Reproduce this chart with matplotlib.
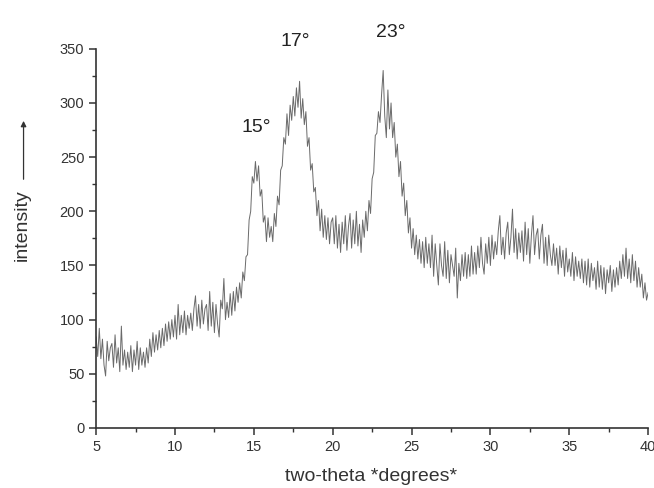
import numpy as np
import matplotlib
matplotlib.use("Agg")
import matplotlib.pyplot as plt
from matplotlib.ticker import MultipleLocator

plt.rcParams["font.family"] = ["Liberation Sans", "DejaVu Sans"]

# two-theta from 5.0 to 40.0 in 0.1 degree steps, intensities
theta_start = 5.0
theta_step = 0.1

intensity = [
    84, 66, 92, 64, 82, 58, 48, 80, 62, 74,
    78, 56, 86, 60, 74, 52, 94, 58, 72, 54,
    70, 56, 76, 52, 72, 58, 80, 54, 74, 58,
    70, 56, 74, 60, 82, 66, 88, 70, 86, 72,
    90, 74, 92, 76, 96, 80, 98, 82, 100, 84,
    104, 82, 114, 86, 104, 88, 108, 86, 104, 92,
    106, 90, 110, 122, 94, 114, 92, 118, 96, 110,
    114, 90, 126, 94, 116, 88, 114, 96, 84, 118,
    110, 138, 100, 116, 102, 124, 104, 126, 108, 130,
    116, 134, 120, 144, 136, 158, 160, 192, 200, 232,
    226, 246, 228, 242, 214, 220, 190, 196, 172, 194,
    176, 186, 172, 198, 186, 214, 206, 238, 242, 268,
    262, 290, 270, 298, 284, 306, 288, 314, 296, 320,
    286, 304, 280, 292, 260, 268, 238, 244, 218, 222,
    196, 210, 182, 202, 176, 196, 174, 194, 170, 190,
    194, 170, 196, 166, 188, 162, 190, 170, 196, 164,
    186, 198, 166, 192, 170, 200, 168, 188, 162, 192,
    176, 200, 182, 210, 198, 230, 236, 270, 272, 292,
    282, 308, 330, 288, 268, 312, 276, 300, 268, 282,
    250, 262, 232, 246, 214, 226, 196, 210, 180, 194,
    166, 184, 160, 178, 156, 174, 152, 172, 148, 176,
    152, 170, 148, 178, 140, 170, 150, 132, 170, 150,
    140, 172, 138, 164, 134, 160, 150, 140, 166, 120,
    152, 136, 160, 140, 162, 138, 160, 140, 168, 142,
    162, 142, 168, 148, 176, 152, 142, 170, 152, 176,
    150, 178, 156, 172, 160, 182, 196, 160, 176, 156,
    180, 190, 160, 176, 202, 162, 184, 156, 180, 162,
    182, 154, 190, 160, 184, 152, 178, 196, 160, 178,
    184, 156, 178, 188, 152, 176, 150, 178, 160, 150,
    170, 150, 166, 142, 168, 148, 164, 140, 166, 144,
    156, 140, 162, 136, 158, 140, 154, 138, 156, 134,
    154, 132, 156, 130, 152, 136, 148, 128, 154, 130,
    150, 128, 148, 124, 146, 134, 150, 126, 146, 130,
    148, 132, 154, 138, 160, 140, 166, 138, 156, 134,
    160, 136, 154, 130, 148, 130, 142, 120, 134, 118,
    125,
]

peak_labels = ["15°", "17°", "23°"]
peak_x = [15.15, 17.65, 23.7]
peak_y = [277, 357, 365]

theta = theta_start + theta_step * np.arange(len(intensity))

fig = plt.figure(figsize=(6.54, 4.88), dpi=100)
ax = fig.add_axes([0.147, 0.123, 0.844, 0.777])

ax.plot(theta, intensity, color="#6a6a6a", linewidth=0.7)

for label, x, y in zip(peak_labels, peak_x, peak_y):
    ax.text(x, y, label, ha="center", va="center", fontsize=14,
            color="#222222", clip_on=False)

ax.set_xlim(5, 40)
ax.set_ylim(0, 350)
ax.xaxis.set_major_locator(MultipleLocator(5))
ax.xaxis.set_minor_locator(MultipleLocator(2.5))
ax.yaxis.set_major_locator(MultipleLocator(50))
ax.yaxis.set_minor_locator(MultipleLocator(25))

ax.spines["top"].set_visible(False)
ax.spines["right"].set_visible(False)
ax.spines["left"].set_color("#333333")
ax.spines["bottom"].set_color("#333333")
ax.spines["left"].set_linewidth(1.2)
ax.spines["bottom"].set_linewidth(1.2)

ax.tick_params(which="major", direction="out", length=5, width=1.1,
               labelsize=10.5, colors="#333333")
ax.tick_params(which="minor", direction="out", length=3, width=1.0,
               colors="#333333")

fig.text(0.567, 0.024, "two-theta *degrees*", ha="center", va="center",
         fontsize=14, color="#333333")
fig.text(0.034, 0.539, "intensity", rotation=90, ha="center", va="center",
         fontsize=14, color="#333333")
fig.add_artist(matplotlib.patches.FancyArrowPatch(
    (0.036, 0.627), (0.036, 0.758), transform=fig.transFigure,
    arrowstyle="-|>", mutation_scale=8, color="#333333", linewidth=0.9))

fig.savefig("out.png", dpi=100)
plt.close(fig)
